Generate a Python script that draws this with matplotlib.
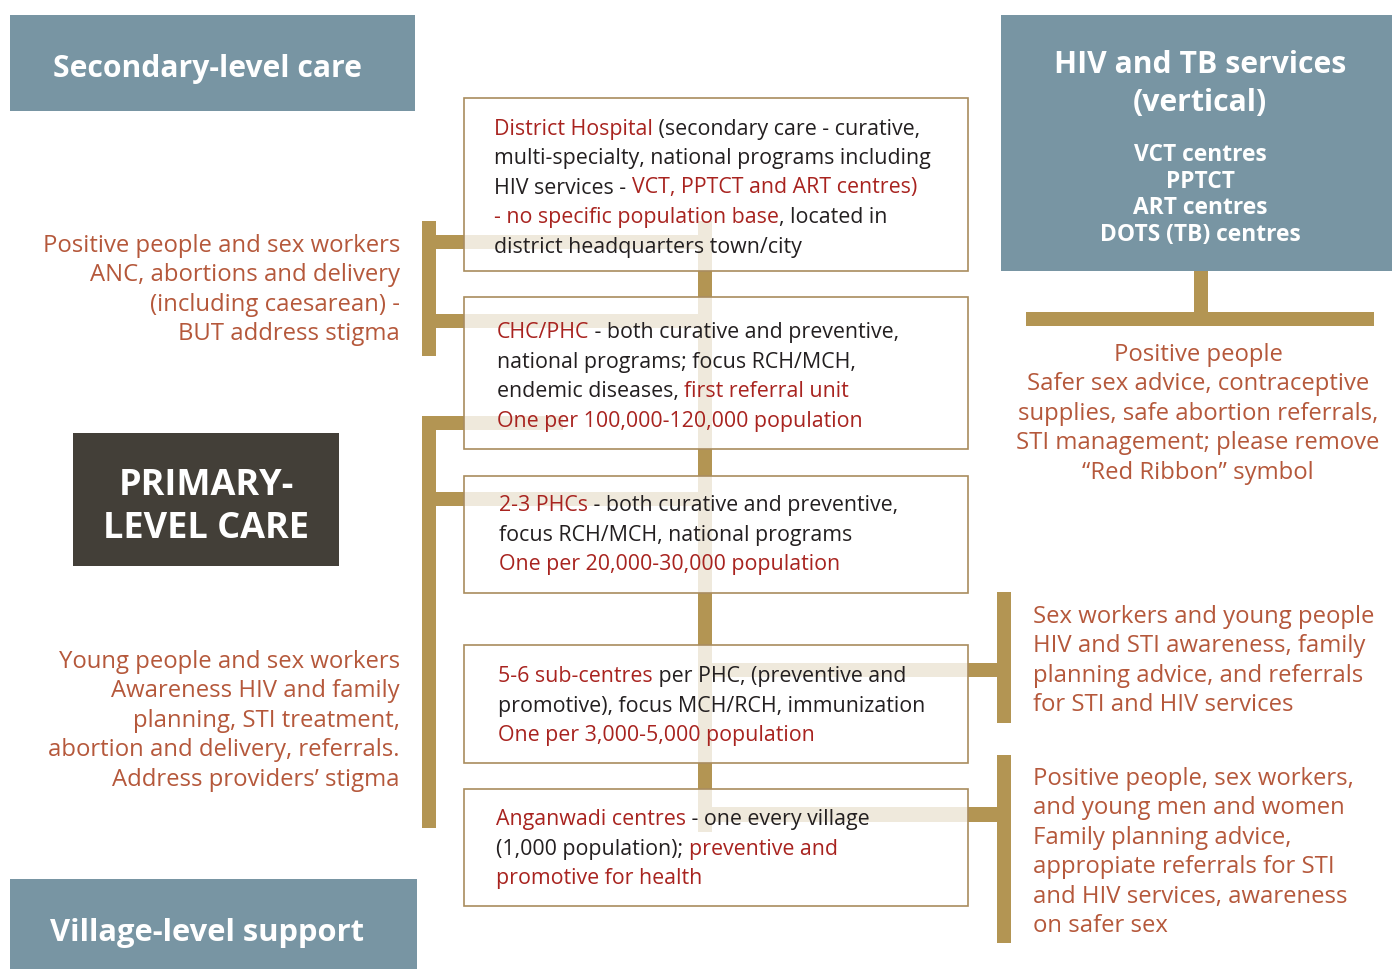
import matplotlib.pyplot as plt
from matplotlib.patches import Rectangle

plt.rcParams['font.family'] = ['Open Sans', 'DejaVu Sans']

# colours
SLATE = '#7895a3'
DARK = '#433f38'
GOLD = '#b39553'
RED = '#a8231f'
INK = '#231f20'
RUST = '#b5583b'
EDGE = '#a98c5e'

# header boxes
secondary_title = "Secondary-level care"
primary_title = ["PRIMARY-", "LEVEL CARE"]
village_title = "Village-level support"
vertical_title = ["HIV and TB services", "(vertical)"]
vertical_items = ["VCT centres", "PPTCT", "ART centres", "DOTS (TB) centres"]

# centre boxes: each line is a list of (text, is_highlight)
box_district = [
    [("District Hospital", 1), (" (secondary care - curative,", 0)],
    [("multi-specialty, national programs including", 0)],
    [("HIV services - ", 0), ("VCT, PPTCT and ART centres)", 1)],
    [("- no specific population base", 1), (", located in", 0)],
    [("district headquarters town/city", 0)],
]
box_chc = [
    [("CHC/PHC", 1), (" - both curative and preventive,", 0)],
    [("national programs; focus RCH/MCH,", 0)],
    [("endemic diseases, ", 0), ("first referral unit", 1)],
    [("One per 100,000-120,000 population", 1)],
]
box_phc = [
    [("2-3 PHCs", 1), (" - both curative and preventive,", 0)],
    [("focus RCH/MCH, national programs", 0)],
    [("One per 20,000-30,000 population", 1)],
]
box_sub = [
    [("5-6 sub-centres", 1), (" per PHC, (preventive and", 0)],
    [("promotive), focus MCH/RCH, immunization", 0)],
    [("One per 3,000-5,000 population", 1)],
]
box_angan = [
    [("Anganwadi centres", 1), (" - one every village", 0)],
    [("(1,000 population); ", 0), ("preventive and", 1)],
    [("promotive for health", 1)],
]

# side notes
note_secondary = ["Positive people and sex workers", "ANC, abortions and delivery",
                  "(including caesarean) -", "BUT address stigma"]
note_primary = ["Young people and sex workers", "Awareness HIV and family",
                "planning, STI treatment,", "abortion and delivery, referrals.",
                "Address providers\u2019 stigma"]
note_vertical = ["Positive people", "Safer sex advice, contraceptive",
                 "supplies, safe abortion referrals,", "STI management; please remove",
                 "\u201cRed Ribbon\u201d symbol"]
note_sub = ["Sex workers and young people", "HIV and STI awareness, family",
            "planning advice, and referrals", "for STI and HIV services"]
note_angan = ["Positive people, sex workers,", "and young men and women",
              "Family planning advice,", "appropiate referrals for STI",
              "and HIV services, awareness", "on safer sex"]

fig = plt.figure(figsize=(13.92, 9.70), dpi=100)
ax = fig.add_axes([0, 0, 1, 1])
ax.set_xlim(0, 1392)
ax.set_ylim(970, 0)
ax.axis('off')
renderer = fig.canvas.get_renderer()

BODY = 15.4
NOTE = 17.2
LS = 29.5


def bar(x0, y0, x1, y1, color=GOLD, z=1):
    ax.add_patch(Rectangle((x0, y0), x1 - x0, y1 - y0, facecolor=color,
                           edgecolor='none', zorder=z))


def width(s, size):
    t = ax.text(0, 0, s + '|', fontsize=size)
    t2 = ax.text(0, 0, '|', fontsize=size)
    w = t.get_window_extent(renderer).width - t2.get_window_extent(renderer).width
    t.remove()
    t2.remove()
    return w


def rich_lines(lines, x, y):
    for i, runs in enumerate(lines):
        cx = x
        for s, hl in runs:
            ax.text(cx, y + 2 + i * LS, s, fontsize=BODY, color=RED if hl else INK,
                    va='center', ha='left', zorder=5)
            cx += width(s, BODY)


def note(lines, x, y, ha):
    for i, s in enumerate(lines):
        ax.text(x, y + 2 + i * LS, s, fontsize=NOTE, color=RUST, va='center',
                ha=ha, zorder=5)


def title(s, x, y, size):
    ax.text(x, y + 6, s, fontsize=size, fontweight='bold', color='white',
            ha='center', va='center', zorder=5)


# connectors (gold, drawn under the boxes)
bar(698, 222, 712, 833)                       # central spine
bar(422, 222, 436, 357)                       # left bracket, secondary
bar(422, 236, 712, 250)
bar(422, 315, 712, 329)
bar(422, 417, 436, 829)                       # left bracket, primary
bar(422, 417, 563, 431)
bar(422, 493, 712, 507)
bar(997, 593, 1011, 724)                      # right bracket, sub-centres
bar(698, 664, 1011, 678)
bar(997, 756, 1011, 944)                      # right bracket, anganwadi
bar(698, 808, 1011, 823)
bar(1194, 270, 1208, 320)                     # vertical services stem
bar(1026, 313, 1374, 327)

# centre boxes, translucent so the connectors show faintly through
boxes = [(99, 272, box_district, 494, 127),
         (298, 450, box_chc, 497, 331),
         (477, 594, box_phc, 499, 504),
         (646, 764, box_sub, 498, 675),
         (790, 907, box_angan, 496, 818)]
for y0, y1, lines, tx, ty in boxes:
    ax.add_patch(Rectangle((464, y0), 504, y1 - y0, facecolor=(1, 1, 1, 0.8),
                           edgecolor=EDGE, linewidth=1.2, zorder=3))
    rich_lines(lines, tx, ty)

# header boxes
bar(10, 16, 415, 112, SLATE, 2)
title(secondary_title, 207, 63, 21.7)
bar(10, 880, 417, 970, SLATE, 2)
title(village_title, 207, 927, 22.2)
bar(73, 434, 339, 567, DARK, 2)
for i, s in enumerate(primary_title):
    title(s, 206, 480 + i * 43, 26)
bar(1001, 16, 1392, 272, SLATE, 2)
for i, s in enumerate(vertical_title):
    title(s, 1200, 59 + i * 38, 21.7)
for i, s in enumerate(vertical_items):
    title(s, 1200, 149 + i * 26.7, 16.4)

# side notes
note(note_secondary, 400, 244, 'right')
note(note_primary, 400, 660, 'right')
note(note_vertical, 1198, 353, 'center')
note(note_sub, 1033, 615, 'left')
note(note_angan, 1033, 777, 'left')

fig.savefig('out.png', dpi=100)
